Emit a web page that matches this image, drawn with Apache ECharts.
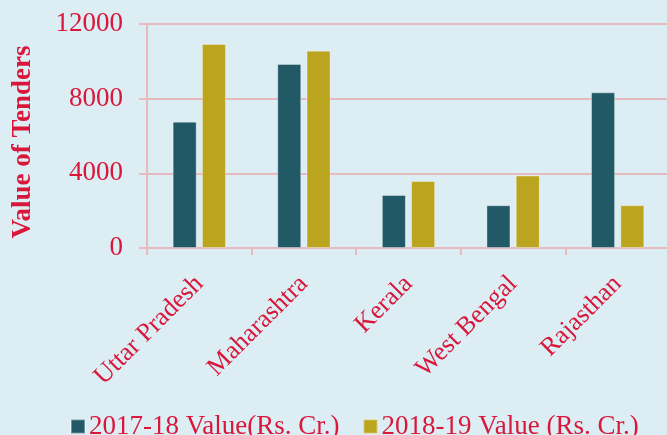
<!DOCTYPE html>
<html>
<head>
<meta charset="utf-8">
<script src="https://cdn.jsdelivr.net/npm/echarts@6/dist/echarts.min.js"></script>
<style>
  html, body { margin: 0; padding: 0; background: #dceef4; }
  #chart { width: 667px; height: 435px; }
</style>
</head>
<body>
<div id="chart"></div>
<script>
// states
var states = ['Uttar Pradesh', 'Maharashtra', 'Kerala', 'West Bengal', 'Rajasthan']
// values
var value1718 = [6770, 9860, 2840, 2290, 8340]
var value1819 = [10930, 10570, 3590, 3880, 2290]
var seriesNames = ['2017-18 Value(Rs. Cr.)', '2018-19 Value (Rs. Cr.)']

var red = '#d8173b'
var pink = '#e8babf'
var font = '"Liberation Serif", "Times New Roman", serif'

var myChart = echarts.init(document.getElementById('chart'))
var option = {
  backgroundColor: '#dceef4',
  textStyle: { fontFamily: font },
  legend: {
    top: 413,
    left: 70,
    padding: 0,
    itemWidth: 14,
    itemHeight: 14,
    itemGap: 23,
    icon: 'rect',
    textStyle: { color: red, fontSize: 27, fontFamily: font, padding: [0, 0, 0, -1] },
    data: seriesNames
  },
  grid: {
    left: 147,
    top: 24,
    right: -3,
    bottom: 187,
    outerBoundsMode: 'none'
  },
  xAxis: {
    type: 'category',
    data: states,
    axisLine: { lineStyle: { color: pink, width: 2 } },
    axisTick: { show: true, length: 7, lineStyle: { color: pink, width: 2 } },
    axisLabel: {
      rotate: 45,
      margin: 32,
      color: red,
      fontSize: 26,
      fontFamily: font,
      interval: 0
    }
  },
  yAxis: {
    type: 'value',
    min: 0,
    max: 12000,
    interval: 4000,
    name: 'Value of Tenders',
    nameLocation: 'middle',
    nameGap: 110,
    nameTextStyle: { color: red, fontSize: 27, fontWeight: 'bold', fontFamily: font, padding: [0, 12, 0, 0] },
    axisLine: { show: true, lineStyle: { color: pink, width: 2 } },
    axisTick: { show: true, length: 8, lineStyle: { color: pink, width: 2 } },
    axisLabel: { color: red, fontSize: 27, fontFamily: font, margin: 24, formatter: function (v) { return String(v) } },
    splitLine: { show: true, lineStyle: { color: pink, width: 2 } }
  },
  series: [
    {
      name: seriesNames[0],
      type: 'bar',
      data: value1718,
      barWidth: 24,
      barGap: '22%',
      itemStyle: { color: '#225967', borderColor: 'rgba(255,255,255,0.35)', borderWidth: 1 }
    },
    {
      name: seriesNames[1],
      type: 'bar',
      data: value1819,
      barWidth: 24,
      itemStyle: { color: '#bba41e', borderColor: 'rgba(255,255,255,0.35)', borderWidth: 1 }
    }
  ]
}
myChart.setOption(option)
</script>
</body>
</html>
